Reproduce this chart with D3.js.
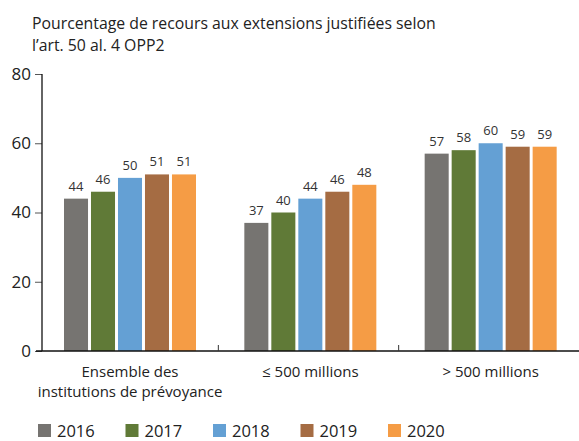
<!DOCTYPE html>
<html>
<head>
<meta charset="utf-8">
<script src="https://cdn.jsdelivr.net/npm/d3@7"></script>
<style>
  body { margin: 0; background: #fff; }
  svg { font-family: "Open Sans", "Noto Sans", sans-serif; }
</style>
</head>
<body>
<div id="chart"></div>
<script>
const categories = [
  ["Ensemble des", "institutions de prévoyance"],
  ["≤ 500 millions"],
  ["> 500 millions"],
];
const years = ["2016", "2017", "2018", "2019", "2020"];
const values = [
  [44, 46, 50, 51, 51],
  [37, 40, 44, 46, 48],
  [57, 58, 60, 59, 59],
];
const yTicks = [0, 20, 40, 60, 80];
const colors = ["#767471", "#607a37", "#64a0d4", "#a56c43", "#f59c45"];
const titleLines = [
  "Pourcentage de recours aux extensions justifiées selon",
  "l’art. 50 al. 4 OPP2",
];

const width = 579, height = 441;
const svg = d3.select("#chart").append("svg")
  .attr("width", width).attr("height", height);

// Scales
const x = d3.scaleBand().domain(d3.range(categories.length)).range([38, 579]);
const xInner = d3.scaleBand().domain(years)
  .range([26, 158]).paddingInner(0.11);
const y = d3.scaleLinear().domain([0, 80]).range([351, 74]);

// Title
svg.append("g").selectAll("text")
  .data(titleLines)
  .join("text")
  .attr("x", 32)
  .attr("y", (d, i) => 29 + i * 22)
  .attr("font-size", 15.8)
  .attr("fill", "#222")
  .text((d) => d);

// Bars
const groups = svg.append("g").selectAll("g")
  .data(values)
  .join("g")
  .attr("transform", (d, i) => `translate(${x(i)},0)`);

groups.selectAll("rect")
  .data((d) => d.map((v, j) => ({ v, year: years[j], j })))
  .join("rect")
  .attr("x", (d) => xInner(d.year))
  .attr("y", (d) => y(d.v))
  .attr("width", xInner.bandwidth())
  .attr("height", (d) => y(0) - y(d.v))
  .attr("fill", (d) => colors[d.j]);

// Value labels
groups.selectAll("text")
  .data((d) => d.map((v, j) => ({ v, year: years[j] })))
  .join("text")
  .attr("x", (d) => xInner(d.year) + xInner.bandwidth() / 2)
  .attr("y", (d) => y(d.v) - 8)
  .attr("text-anchor", "middle")
  .attr("font-size", 13)
  .attr("fill", "#333")
  .text((d) => d.v);

// Y axis
const yAxis = svg.append("g")
  .attr("transform", "translate(42,0)")
  .call(d3.axisLeft(y).tickValues(yTicks).tickSize(7).tickPadding(4));
yAxis.select(".domain").remove();
yAxis.selectAll(".tick line").attr("stroke", "#555");
yAxis.selectAll(".tick text")
  .attr("font-size", 17)
  .attr("font-family", "'Open Sans', sans-serif")
  .attr("fill", "#222");
svg.append("line")
  .attr("x1", 42).attr("x2", 42)
  .attr("y1", y(80)).attr("y2", y(0))
  .attr("stroke", "#111").attr("stroke-width", 1.3);

// X axis line and separators
svg.append("line")
  .attr("x1", 36).attr("x2", width)
  .attr("y1", y(0)).attr("y2", y(0))
  .attr("stroke", "#111").attr("stroke-width", 1.3);
svg.append("g").selectAll("line")
  .data(d3.range(1, categories.length))
  .join("line")
  .attr("x1", (i) => x(i)).attr("x2", (i) => x(i))
  .attr("y1", y(0) - 6).attr("y2", y(0))
  .attr("stroke", "#333");

// Category labels
svg.append("g").selectAll("text")
  .data(categories)
  .join("text")
  .attr("text-anchor", "middle")
  .attr("font-size", 15)
  .attr("fill", "#222")
  .attr("transform", (d, i) => `translate(${x(i) + 92},0)`)
  .selectAll("tspan")
  .data((d) => d)
  .join("tspan")
  .attr("x", 0)
  .attr("y", (d, i) => 377 + i * 20)
  .text((d) => d);

// Legend
const legend = svg.append("g").selectAll("g")
  .data(years)
  .join("g")
  .attr("transform", (d, i) => `translate(${38 + i * 87.5},424)`);
legend.append("rect")
  .attr("width", 13).attr("height", 13)
  .attr("fill", (d, i) => colors[i]);
legend.append("text")
  .attr("x", 19).attr("y", 13)
  .attr("font-size", 16.5)
  .attr("fill", "#222")
  .text((d) => d);
</script>
</body>
</html>
